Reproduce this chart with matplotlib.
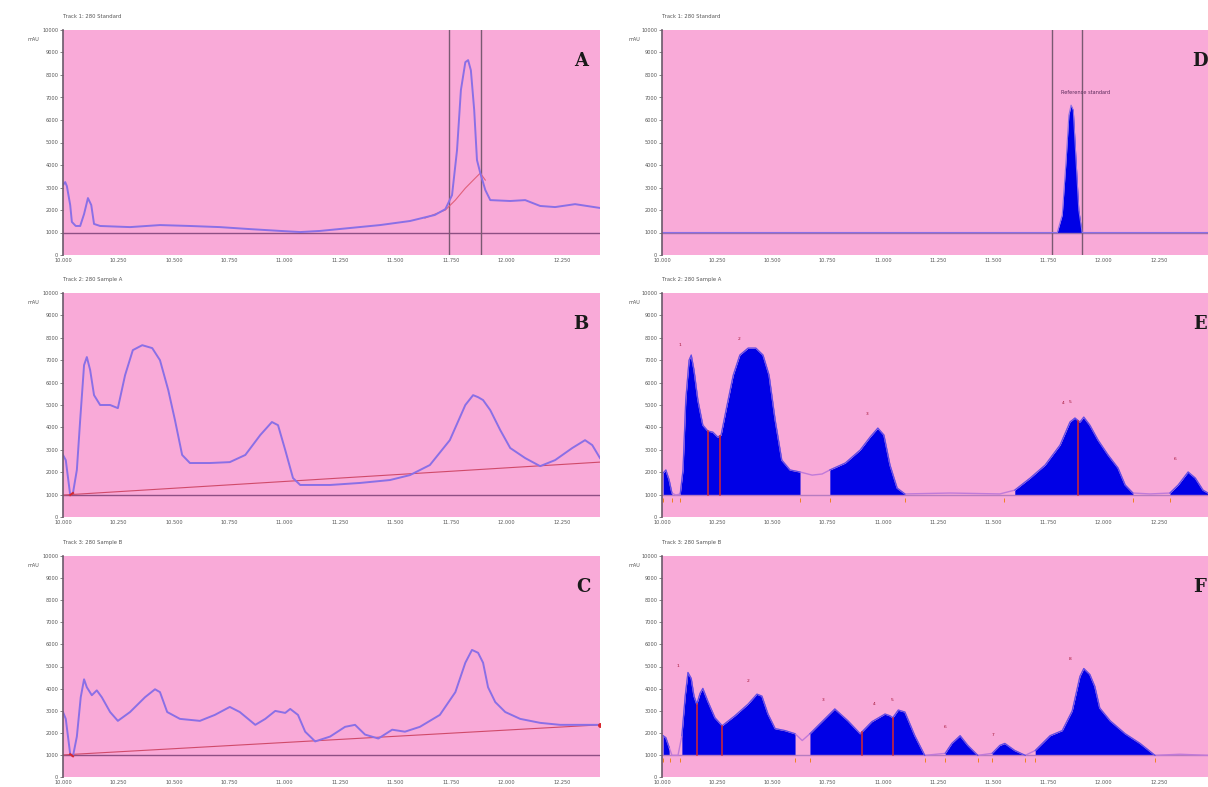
import matplotlib
matplotlib.use("Agg")
import matplotlib.pyplot as plt
import numpy as np

# ---------------- data ----------------
titles = ["Track 1: 280 Standard", "Track 2: 280 Sample A", "Track 3: 280 Sample B",
          "Track 1: 280 Standard", "Track 2: 280 Sample A", "Track 3: 280 Sample B"]
panel_letters = ["A", "B", "C", "D", "E", "F"]
yticks = [0, 1000, 2000, 3000, 4000, 5000, 6000, 7000, 8000, 9000, 10000]
ytick_labels = ["0", "1000", "2000", "3000", "4000", "5000", "6000", "7000", "8000", "9000", "10000"]
xticks = [0, 1, 2, 3, 4, 5, 6, 7, 8, 9]
xtick_labels = ["10.000", "10.250", "10.500", "10.750", "11.000", "11.250", "11.500", "11.750", "12.000", "12.250"]
baseline_level = 1000

# Panel A
a_x = [0, 0.04, 0.07, 0.13, 0.16, 0.23, 0.31, 0.38, 0.45, 0.51, 0.56, 0.67, 1.21, 1.75, 2.29, 2.83,
       3.38, 3.92, 4.28, 4.64, 5.18, 5.72, 6.26, 6.71, 6.90, 7.02, 7.11, 7.18, 7.26, 7.31, 7.36, 7.42,
       7.47, 7.53, 7.62, 7.71, 8.07, 8.34, 8.61, 8.88, 9.24, 9.69]
a_y = [3110, 3240, 3060, 2220, 1470, 1290, 1290, 1820, 2530, 2220, 1380, 1290, 1240, 1330, 1290, 1240,
       1150, 1070, 1020, 1070, 1200, 1330, 1510, 1780, 2040, 2660, 4660, 7330, 8570, 8660, 8210, 6440,
       4220, 3640, 2890, 2440, 2400, 2440, 2180, 2130, 2260, 2090]
a_ref_x = [6.53, 6.90, 7.08, 7.26, 7.44, 7.53, 7.62]
a_ref_y = [1640, 2000, 2440, 2970, 3420, 3640, 3330]
a_vlines = [6.97, 7.55]

# Panel B
b_x = [0, 0.05, 0.13, 0.18, 0.25, 0.31, 0.38, 0.43, 0.49, 0.56, 0.67, 0.85, 0.99, 1.12, 1.26, 1.43,
       1.61, 1.75, 1.90, 2.02, 2.15, 2.29, 2.65, 3.01, 3.29, 3.56, 3.77, 3.88, 4.01, 4.15, 4.28, 4.82,
       5.36, 5.90, 6.26, 6.62, 6.98, 7.26, 7.40, 7.49, 7.58, 7.71, 7.89, 8.07, 8.34, 8.61, 8.88, 9.19,
       9.42, 9.55, 9.69]
b_y = [2770, 2540, 980, 1070, 2100, 4330, 6780, 7140, 6560, 5440, 5000, 5000, 4860, 6330, 7450, 7670,
       7540, 7000, 5660, 4330, 2770, 2410, 2410, 2450, 2770, 3660, 4240, 4100, 2990, 1740, 1430, 1430,
       1520, 1650, 1870, 2320, 3430, 5000, 5440, 5350, 5220, 4770, 3880, 3080, 2630, 2270, 2540, 3080,
       3430, 3210, 2630]
b_base_x = [0.0, 9.69]
b_base_y = [980, 2450]

# Panel C
c_x = [0, 0.05, 0.13, 0.18, 0.25, 0.32, 0.38, 0.43, 0.52, 0.61, 0.70, 0.85, 0.99, 1.21, 1.48, 1.66,
       1.75, 1.88, 2.11, 2.47, 2.74, 3.01, 3.19, 3.47, 3.65, 3.83, 4.01, 4.10, 4.24, 4.37, 4.55, 4.82,
       5.09, 5.27, 5.45, 5.69, 5.94, 6.17, 6.44, 6.80, 7.08, 7.26, 7.38, 7.49, 7.58, 7.67, 7.80, 7.98,
       8.25, 8.61, 8.97, 9.33, 9.69]
c_y = [2940, 2630, 1030, 940, 1830, 3610, 4420, 4060, 3700, 3920, 3610, 2940, 2540, 2940, 3610, 3970,
       3840, 2940, 2630, 2540, 2810, 3170, 2940, 2360, 2630, 2990, 2900, 3080, 2810, 2050, 1610, 1830,
       2270, 2360, 1920, 1740, 2140, 2050, 2270, 2810, 3840, 5170, 5750, 5620, 5170, 4060, 3390, 2940,
       2630, 2450, 2360, 2360, 2360]
c_base_x = [0.0, 9.69]
c_base_y = [1000, 2360]

# Panel D
d_x = [0, 7.16, 7.25, 7.32, 7.37, 7.41, 7.45, 7.50, 7.55, 7.61, 9.9]
d_y = [1000, 1000, 1780, 4220, 6220, 6660, 6440, 4220, 2000, 1000, 1000]
d_vlines = [7.07, 7.61]
d_label = "Reference standard"

# Panel E
e_x = [0.02, 0.07, 0.13, 0.18, 0.25, 0.33, 0.38, 0.43, 0.49, 0.53, 0.58, 0.65, 0.74, 0.83, 0.92, 1.01,
       1.07, 1.16, 1.29, 1.41, 1.56, 1.70, 1.83, 1.94, 2.05, 2.17, 2.32, 2.50, 2.72, 2.90, 3.04, 3.32,
       3.59, 3.77, 3.91, 4.02, 4.13, 4.26, 4.40, 5.22, 6.12, 6.39, 6.67, 6.94, 7.21, 7.39, 7.48, 7.57,
       7.64, 7.75, 7.90, 8.08, 8.26, 8.39, 8.53, 8.84, 9.20, 9.35, 9.53, 9.66, 9.80, 9.89]
e_y = [1960, 2100, 1650, 1070, 980, 1030, 2100, 5220, 7000, 7230, 6560, 5220, 4100, 3840, 3790, 3570,
       3660, 4770, 6330, 7230, 7540, 7540, 7230, 6330, 4330, 2540, 2100, 2010, 1870, 1920, 2100, 2410,
       2990, 3570, 3970, 3660, 2320, 1290, 1030, 1070, 1030, 1200, 1740, 2320, 3210, 4240, 4420, 4240,
       4460, 4100, 3430, 2770, 2190, 1430, 1070, 1030, 1070, 1430, 2010, 1740, 1200, 1070]
e_segments = [(0.02, 0.18), (0.33, 2.50), (3.04, 4.40), (6.20, 8.53), (9.20, 9.89)]
e_splits = [0.83, 1.05, 7.54]
e_peak_x = [0.33, 1.40, 3.72, 7.26, 7.40, 9.30]
e_peak_y = [7600, 7850, 4500, 5000, 5050, 2500]

# Panel F
f_x = [0.02, 0.07, 0.13, 0.18, 0.29, 0.36, 0.42, 0.47, 0.53, 0.58, 0.63, 0.69, 0.74, 0.83, 0.96, 1.09,
       1.32, 1.56, 1.72, 1.81, 1.92, 2.05, 2.23, 2.41, 2.54, 2.68, 2.86, 3.13, 3.37, 3.59, 3.80, 4.04,
       4.13, 4.18, 4.28, 4.40, 4.58, 4.76, 5.13, 5.25, 5.40, 5.54, 5.72, 5.98, 6.12, 6.21, 6.39, 6.58,
       6.76, 7.03, 7.25, 7.43, 7.57, 7.64, 7.75, 7.84, 7.93, 8.12, 8.39, 8.66, 8.93, 9.38, 9.89]
f_y = [1870, 1780, 1340, 980, 980, 1870, 3660, 4730, 4460, 3660, 3300, 3790, 4010, 3430, 2680, 2320,
       2770, 3300, 3750, 3660, 2850, 2190, 2100, 1960, 1650, 1960, 2410, 3080, 2540, 1960, 2500, 2850,
       2770, 2680, 3030, 2940, 1870, 980, 1070, 1520, 1870, 1430, 980, 1070, 1430, 1520, 1200, 980,
       1200, 1870, 2100, 2990, 4550, 4910, 4640, 4100, 3120, 2540, 1960, 1520, 980, 1030, 980]
f_segments = [(0.02, 0.15), (0.33, 2.41), (2.68, 4.76), (5.13, 5.72), (5.98, 6.58), (6.76, 8.93)]
f_splits = [0.63, 1.09, 3.62, 4.18]
f_peak_x = [0.29, 1.56, 2.91, 3.85, 4.17, 5.13, 6.00, 7.40]
f_peak_y = [4950, 4250, 3400, 3200, 3400, 2150, 1800, 5250]

# ---------------- style ----------------
PINK = "#F9AAD8"
LINE = "#8A6FE6"
FILL = "#0000E6"
BASE = "#8E4F84"
RED = "#D8282E"
TXT = "#555555"

fig = plt.figure(figsize=(12.08, 7.87), dpi=100)
fig.patch.set_facecolor("white")

W, H = 1208.0, 787.0
rows = [(30, 255), (293, 517), (556, 777)]
cols = [(63, 600, 9.69), (662, 1208, 9.89)]


def make_ax(col, row):
    x0, x1, xmax = cols[col]
    t, b = rows[row]
    ax = fig.add_axes([x0 / W, 1 - b / H, (x1 - x0) / W, (b - t) / H])
    ax.set_facecolor(PINK)
    ax.set_xlim(0, xmax)
    ax.set_ylim(0, 10000)
    for s in ["top", "right", "bottom"]:
        ax.spines[s].set_visible(False)
    ax.spines["left"].set_color("#6a5a6a")
    ax.spines["left"].set_linewidth(1.2)
    ax.set_yticks(yticks)
    ax.set_yticklabels(ytick_labels)
    ax.set_xticks(xticks)
    ax.set_xticklabels(xtick_labels)
    ax.tick_params(axis="both", labelsize=3.6, colors=TXT, length=2, width=0.5, pad=1.5)
    ax.tick_params(axis="x", length=0, pad=2)
    ax.text(-0.045 if col == 0 else -0.04, 0.97, "mAU", transform=ax.transAxes, fontsize=3.6,
            color=TXT, ha="right", va="top")
    return ax


def letter(ax, s, x=0.965):
    ax.text(x, 0.86, s, transform=ax.transAxes, fontsize=13, fontweight="bold",
            family="DejaVu Serif", color="#1a1a1a", ha="center", va="center")


def title(ax, s):
    ax.text(0.0, 1.06, s, transform=ax.transAxes, fontsize=3.8, color=TXT, ha="left", va="center")


# --- A ---
ax = make_ax(0, 0)
title(ax, titles[0])
ax.axhline(baseline_level, color=BASE, lw=1.0)
for v in a_vlines:
    ax.axvline(v, color="#7a5a72", lw=1.0)
ax.plot(a_ref_x, a_ref_y, color="#E0607A", lw=0.8)
ax.plot(a_x, a_y, color=LINE, lw=1.4)
letter(ax, panel_letters[0])

# --- B ---
ax = make_ax(0, 1)
title(ax, titles[1])
ax.axhline(baseline_level, color=BASE, lw=1.0)
ax.plot(b_base_x, b_base_y, color="#D04A6A", lw=0.8)
ax.plot(b_x, b_y, color=LINE, lw=1.4)
ax.plot(b_x[2:4], b_y[2:4], color=RED, lw=1.5)
letter(ax, panel_letters[1])

# --- C ---
ax = make_ax(0, 2)
title(ax, titles[2])
ax.axhline(baseline_level, color=BASE, lw=1.0)
ax.plot(c_base_x, c_base_y, color="#D04A6A", lw=0.8)
ax.plot(c_x, c_y, color=LINE, lw=1.4)
ax.plot(c_x[2:4], c_y[2:4], color=RED, lw=1.5)
ax.plot([c_base_x[1]], [c_base_y[1]], marker="o", ms=2.5, color=RED)
letter(ax, panel_letters[2], x=0.97)

# --- D ---
ax = make_ax(1, 0)
title(ax, titles[3])
ax.axhline(baseline_level, color="#9a6fb0", lw=1.0)
for v in d_vlines:
    ax.axvline(v, color="#7a5a72", lw=1.0)
dx = np.array(d_x)
dy = np.array(d_y)
ax.fill_between(dx, baseline_level, dy, where=(dx >= 7.16) & (dx <= 7.61), color=FILL, lw=0)
ax.plot(dx, dy, color=LINE, lw=0.8)
ax.text(7.22, 7100, d_label, fontsize=3.6, color="#5a2a5a", ha="left", va="bottom")
letter(ax, panel_letters[3], x=0.985)


def fill_panel(ax, xs, ys, segments, splits, px, py):
    xs = np.array(xs)
    ys = np.array(ys)
    ax.axhline(baseline_level, color="#B77CC0", lw=1.0)
    ax.plot(xs, ys, color="#C07AD8", lw=1.0)
    for a, b in segments:
        m = (xs >= a - 1e-9) & (xs <= b + 1e-9)
        sx = xs[m]
        sy = ys[m]
        ax.fill_between(sx, baseline_level, sy, color=FILL, lw=0)
        ax.plot(sx, sy, color="#5A4BE8", lw=0.8)
        ax.plot([a, b], [baseline_level - 250, baseline_level - 250], ls="none",
                marker="|", ms=2.5, color="#F08020", mew=0.7)
    for s in splits:
        ax.plot([s, s], [baseline_level, np.interp(s, xs, ys)], color=RED, lw=1.1)
    for i, (x, y) in enumerate(zip(px, py)):
        ax.text(x, y, str(i + 1), fontsize=3.2, color="#A01030", ha="center", va="bottom")


# --- E ---
ax = make_ax(1, 1)
title(ax, titles[4])
fill_panel(ax, e_x, e_y, e_segments, e_splits, e_peak_x, e_peak_y)
letter(ax, panel_letters[4], x=0.985)

# --- F ---
ax = make_ax(1, 2)
title(ax, titles[5])
fill_panel(ax, f_x, f_y, f_segments, f_splits, f_peak_x, f_peak_y)
letter(ax, panel_letters[5], x=0.985)

fig.savefig("out.png", dpi=100, facecolor="white")
